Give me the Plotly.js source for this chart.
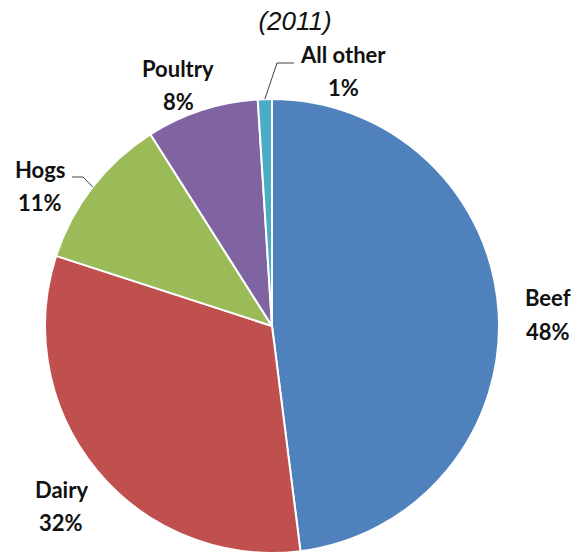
<!DOCTYPE html>
<html>
<head>
<meta charset="utf-8">
<script src="https://cdn.plot.ly/plotly-3.0.1.min.js"></script>
<style>
  html, body { margin: 0; padding: 0; background: #ffffff; }
  #chart { width: 583px; height: 555px; }
</style>
</head>
<body>
<div id="chart"></div>
<script>
// ---- data ----
const categories = ["Beef", "Dairy", "Hogs", "Poultry", "All other"];
const shares = [48, 32, 11, 8, 1];
const colors = ["#4F81BD", "#C0504D", "#9BBB59", "#8064A2", "#4BACC6"];
const chartTitle = "(2011)";

// ---- layout geometry (pixels) ----
const W = 583, H = 555;
const M = { l: 45, r: 84, t: 99, b: 2 };
const PW = W - M.l - M.r, PH = H - M.t - M.b;
const CX = M.l + PW / 2, CY = M.t + PH / 2, R = Math.min(PW, PH) / 2;
const px = x => (x - M.l) / PW;
const py = y => (H - M.b - y) / PH;

// label placement (pixel centres of name line and percent line) per category
const labelPlace = [
  { x: 548, y1: 297, y2: 331 },
  { x: 61,  y1: 489, y2: 522 },
  { x: 40,  y1: 169, y2: 202 },
  { x: 178, y1: 68,  y2: 101 },
  { x: 343, y1: 54,  y2: 88 }
];
// leader lines: [category index, elbow points in pixels before reaching the slice edge]
const leaders = [
  { i: 2, pts: [[72, 177], [83, 177]] },
  { i: 4, pts: [[294, 63], [277, 63]] }
];

const total = shares.reduce((a, b) => a + b, 0);
function edgePoint(i) {
  let cum = 0;
  for (let k = 0; k < i; k++) cum += shares[k];
  const frac = (cum + shares[i] / 2) / total;
  const a = frac * 2 * Math.PI;
  return [CX + R * Math.sin(a), CY - R * Math.cos(a)];
}

const labelFont = { family: "Lato, 'Open Sans', sans-serif", size: 22, color: "#111111", weight: "bold" };

const annotations = [];
categories.forEach((c, i) => {
  const p = labelPlace[i];
  annotations.push({ text: c, x: px(p.x), y: py(p.y1), xref: "paper", yref: "paper",
    xanchor: "center", yanchor: "middle", showarrow: false, font: labelFont });
  annotations.push({ text: shares[i] + "%", x: px(p.x), y: py(p.y2), xref: "paper", yref: "paper",
    xanchor: "center", yanchor: "middle", showarrow: false, font: labelFont });
});

const shapes = leaders.map(l => {
  const pts = l.pts.concat([edgePoint(l.i)]);
  const d = pts.map((q, k) => (k === 0 ? "M" : "L") + px(q[0]) + "," + py(q[1])).join(" ");
  return { type: "path", xref: "paper", yref: "paper", path: d,
    line: { color: "#404040", width: 1 } };
});

const trace = {
  type: "pie",
  labels: categories,
  values: shares,
  sort: false,
  direction: "clockwise",
  rotation: 0,
  marker: { colors: colors, line: { color: "#ffffff", width: 2 } },
  textinfo: "none",
  hoverinfo: "label+percent",
  showlegend: false
};

const layout = {
  width: W,
  height: H,
  margin: { l: M.l, r: M.r, t: M.t, b: M.b, pad: 0 },
  paper_bgcolor: "#ffffff",
  plot_bgcolor: "#ffffff",
  showlegend: false,
  annotations: annotations,
  shapes: shapes,
  title: {
    text: "<i>" + chartTitle + "</i>",
    font: { family: "'Liberation Sans', Arial, sans-serif", size: 26, color: "#111111" },
    x: 295 / W,
    xanchor: "center",
    xref: "container",
    y: 1 - 21 / H,
    yanchor: "middle",
    yref: "container"
  }
};

Plotly.newPlot("chart", [trace], layout, { displayModeBar: false, staticPlot: true });
</script>
</body>
</html>
